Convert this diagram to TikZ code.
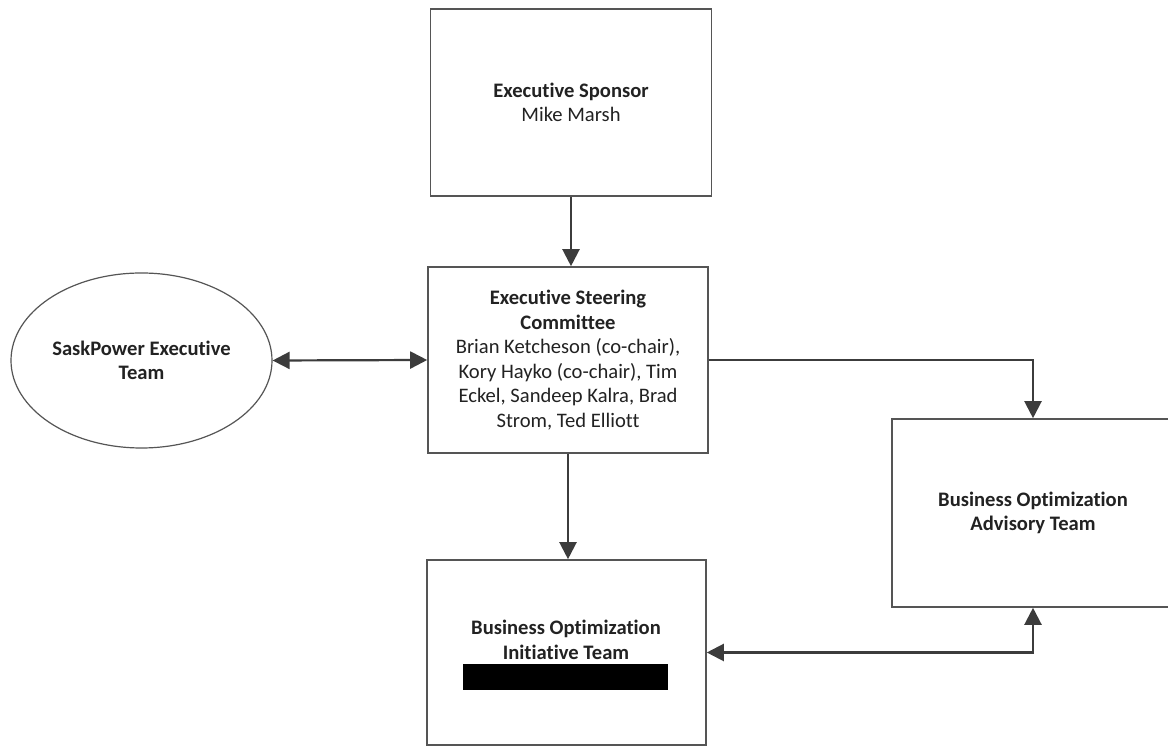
\documentclass[tikz,border=0pt]{standalone}
\usepackage{fontspec}
\setmainfont{Carlito}[Ligatures=NoCommon]
\usetikzlibrary{arrows.meta,shapes.geometric}
\definecolor{linec}{HTML}{3C3C3C}
\definecolor{boxc}{HTML}{555555}
\definecolor{textc}{HTML}{222222}
\tikzset{
  boxnode/.style={draw=boxc, line width=0.8pt, fill=white, rectangle, inner sep=0pt, align=center, text=textc, font=\fontsize{10.3}{12.3}\selectfont},
  ellnode/.style={draw=boxc, line width=0.6pt, fill=white, ellipse, inner sep=0pt, align=center, text=textc, font=\fontsize{10.3}{12.3}\selectfont},
  conn/.style={draw=linec, line width=1.1pt, -{Triangle[length=8.5pt,width=8.5pt]}},
  biconn/.style={draw=linec, line width=1.1pt, {Triangle[length=8.5pt,width=8.5pt]}-{Triangle[length=8.5pt,width=8.5pt]}},
  txt/.style={align=center, text=textc, inner sep=0pt, font=\fontsize{10.3}{12.3}\selectfont}
}
\begin{document}
\begin{tikzpicture}[x=0.5pt,y=-0.5pt]
\clip (0,0) rectangle (1168,747);
\fill[white] (0,0) rectangle (1168,747);

\node[boxnode, minimum width=140.5pt, minimum height=93.5pt] (sponsor) at (571,102.5)
  {\textbf{Executive Sponsor}\\Mike Marsh};

\node[boxnode, minimum width=140pt, minimum height=93pt] (steer) at (568,360)
  {\textbf{Executive Steering}\\\textbf{Committee}\\Brian Ketcheson (co-chair),\\Kory Hayko (co-chair), Tim\\Eckel, Sandeep Kalra, Brad\\Strom, Ted Elliott};

\node[ellnode, minimum width=130.5pt, minimum height=87.5pt] (exec) at (141.5,360.5)
  {\textbf{SaskPower Executive}\\\textbf{Team}};

\node[boxnode, minimum width=141pt, minimum height=94pt] (adv) at (1033,513)
  {\textbf{Business Optimization}\\\textbf{Advisory Team}};

\node[boxnode, minimum width=139.5pt, minimum height=92.5pt] (init) at (566.5,652.5) {};
\node[txt] (inittext) at (566,640) {\textbf{Business Optimization}\\\textbf{Initiative Team}};
\node[fill=black, inner sep=0pt, minimum width=102.5pt, minimum height=13pt] (redact) at (565.5,677) {};

\draw[conn] (sponsor.south) -- (sponsor.south |- steer.north);
\draw[biconn] (exec.east) -- (steer.west);
\draw[conn] (steer.east) -| (adv.north);
\draw[conn] (steer.south) -- (steer.south |- init.north);
\draw[biconn] (adv.south) |- (init.east);
\end{tikzpicture}
\end{document}
